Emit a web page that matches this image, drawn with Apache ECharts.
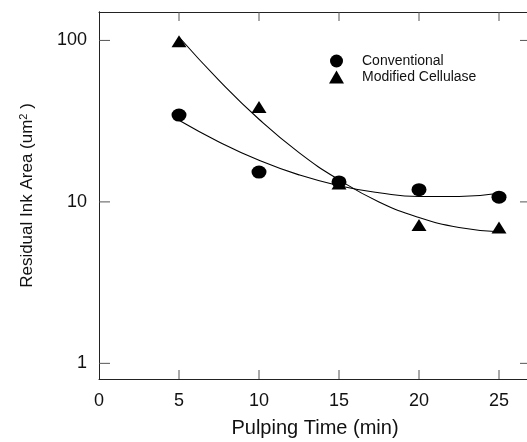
<!DOCTYPE html>
<html>
<head>
<meta charset="utf-8">
<script src="https://cdn.jsdelivr.net/npm/echarts@6/dist/echarts.min.js"></script>
<style>
  html, body { margin: 0; padding: 0; background: #fff; }
  #chart { width: 527px; height: 442px; }
</style>
</head>
<body>
<div id="chart"></div>
<script>
// Pulping time (min) at which samples were taken
const pulpingTime = [5, 10, 15, 20, 25];

// Measured residual ink area (um^2)
const conventional = [34.5, 15.3, 13.3, 11.9, 10.7];
const modifiedCellulase = [98.9, 38.7, 13.0, 7.18, 6.95];

// Fitted trend curves, read at 2.5 min steps
const fitTime = [5, 7.5, 10, 12.5, 15, 17.5, 20, 22.5, 25];
const conventionalFit = [32.0, 23.5, 18.1, 14.7, 12.6, 11.4, 10.8, 10.8, 11.3];
const modifiedFit = [105, 56.6, 32.5, 20.2, 13.7, 10.0, 8.0, 6.94, 6.53];

// Tick positions on the frame
const xTicks = [5, 10, 15, 20, 25];
const yTickLabels = [1, 10, 100];

const pairs = (xs, ys) => xs.map((x, i) => [x, ys[i]]);

const font = 'Liberation Sans, Arial, sans-serif';
const axisColor = '#222';
const tickColor = '#555';
const xTickLen = 9;
const yTickLen = 11;

// Inward-pointing frame ticks, placed through the axes' scales
function renderXTick(params, api) {
  const cs = params.coordSys;
  const px = api.coord([api.value(0), 1])[0];
  const style = { stroke: tickColor, lineWidth: 1 };
  return {
    type: 'group',
    children: [
      { type: 'line', shape: { x1: px, y1: cs.y + cs.height, x2: px, y2: cs.y + cs.height - xTickLen }, style },
      { type: 'line', shape: { x1: px, y1: cs.y, x2: px, y2: cs.y + xTickLen }, style }
    ]
  };
}
function renderYTick(params, api) {
  const cs = params.coordSys;
  const py = api.coord([1, api.value(1)])[1];
  const style = { stroke: tickColor, lineWidth: 1 };
  return {
    type: 'group',
    children: [
      { type: 'line', shape: { x1: cs.x, y1: py, x2: cs.x + yTickLen, y2: py }, style },
      { type: 'line', shape: { x1: cs.x + cs.width, y1: py, x2: cs.x + cs.width - yTickLen, y2: py }, style }
    ]
  };
}

const chart = echarts.init(document.getElementById('chart'), null, { renderer: 'canvas' });

chart.setOption({
  animation: false,
  backgroundColor: '#fff',
  grid: {
    left: 99, top: 12, right: -4, bottom: 63,
    containLabel: false,
    outerBoundsMode: 'none'
  },
  legend: {
    orient: 'vertical',
    left: 324,
    top: 49,
    itemWidth: 15,
    itemHeight: 13,
    itemGap: 2,
    symbolKeepAspect: false,
    data: ['Conventional', 'Modified Cellulase'],
    itemStyle: { color: '#000', opacity: 1 },
    textStyle: { fontFamily: font, fontSize: 14, color: '#111', padding: [0, 0, 0, 13] }
  },
  xAxis: [
    {
      type: 'value', position: 'bottom', min: 0, max: 27, interval: 5,
      name: 'Pulping Time (min)', nameLocation: 'middle', nameGap: 39,
      nameTextStyle: { fontFamily: font, fontSize: 20, color: '#111' },
      axisLine: { show: true, lineStyle: { color: axisColor, width: 1 } },
      axisTick: { show: false },
      axisLabel: { fontFamily: font, fontSize: 18, color: '#111', margin: 13,
        formatter: v => (v % 5 === 0 ? String(v) : '') },
      splitLine: { show: false }
    },
    {
      type: 'value', position: 'top', min: 0, max: 27, interval: 5,
      axisLine: { show: true, lineStyle: { color: axisColor, width: 1 } },
      axisTick: { show: false },
      axisLabel: { show: false },
      splitLine: { show: false }
    }
  ],
  yAxis: [
    {
      type: 'log', logBase: 10, position: 'left', min: 0.8, max: 150,
      name: 'Residual Ink Area (um{sup|2} )', nameLocation: 'middle', nameGap: 62,
      nameRotate: 90,
      nameTextStyle: {
        fontFamily: font, fontSize: 17, color: '#111',
        rich: { sup: { fontFamily: font, fontSize: 11, color: '#111', verticalAlign: 'top', padding: [0, 0, 8, 0] } }
      },
      axisLine: { show: true, lineStyle: { color: axisColor, width: 1 } },
      axisTick: { show: false },
      minorTick: { show: false },
      axisLabel: { fontFamily: font, fontSize: 18, color: '#111', margin: 12,
        showMinLabel: false, showMaxLabel: false,
        formatter: v => (yTickLabels.some(t => Math.abs(t - v) < 1e-6) ? String(v) : '') },
      splitLine: { show: false }
    },
    {
      type: 'log', logBase: 10, position: 'right', min: 0.8, max: 150,
      axisLine: { show: true, lineStyle: { color: axisColor, width: 1 } },
      axisTick: { show: false },
      minorTick: { show: false },
      axisLabel: { show: false },
      splitLine: { show: false }
    }
  ],
  series: [
    {
      name: 'x ticks', type: 'custom', xAxisIndex: 0, yAxisIndex: 0,
      data: xTicks.map(v => [v, 1]), renderItem: renderXTick, clip: false, silent: true, z: 1
    },
    {
      name: 'y ticks', type: 'custom', xAxisIndex: 0, yAxisIndex: 0,
      data: yTickLabels.map(v => [1, v]), renderItem: renderYTick, clip: false, silent: true, z: 1
    },
    {
      name: 'Conventional fit', type: 'line', xAxisIndex: 0, yAxisIndex: 0,
      data: pairs(fitTime, conventionalFit), smooth: true, showSymbol: false, symbol: 'none',
      lineStyle: { color: '#000', width: 1.1 }, z: 2, silent: true
    },
    {
      name: 'Modified Cellulase fit', type: 'line', xAxisIndex: 0, yAxisIndex: 0,
      data: pairs(fitTime, modifiedFit), smooth: true, showSymbol: false, symbol: 'none',
      lineStyle: { color: '#000', width: 1.1 }, z: 2, silent: true
    },
    {
      name: 'Conventional', type: 'scatter', xAxisIndex: 0, yAxisIndex: 0,
      data: pairs(pulpingTime, conventional),
      symbol: 'circle', symbolSize: [15, 13],
      itemStyle: { color: '#000', opacity: 1 }, z: 3
    },
    {
      name: 'Modified Cellulase', type: 'scatter', xAxisIndex: 0, yAxisIndex: 0,
      data: pairs(pulpingTime, modifiedCellulase),
      symbol: 'triangle', symbolSize: [15, 12],
      itemStyle: { color: '#000', opacity: 1 }, z: 3
    }
  ]
});
</script>
</body>
</html>
